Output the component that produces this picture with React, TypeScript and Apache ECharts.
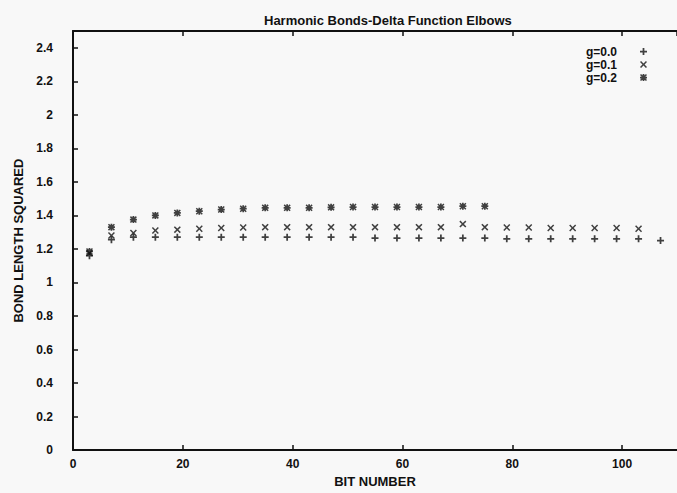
import React, { useEffect, useRef } from "react";
import * as echarts from "echarts";

const titleText = "Harmonic Bonds-Delta Function Elbows";
const xName = "BIT NUMBER";
const yName = "BOND LENGTH SQUARED";
const seriesNames = ["g=0.0", "g=0.1", "g=0.2"];

const bitNumbers = [3, 7, 11, 15, 19, 23, 27, 31, 35, 39, 43, 47, 51, 55, 59, 63, 67, 71, 75, 79, 83, 87, 91, 95, 99, 103, 107];
const g00 = [1.16, 1.255, 1.27, 1.27, 1.27, 1.27, 1.27, 1.27, 1.27, 1.27, 1.27, 1.27, 1.27, 1.265, 1.265, 1.265, 1.265, 1.265, 1.265, 1.26, 1.26, 1.26, 1.26, 1.26, 1.26, 1.26, 1.25];
const g01 = [1.175, 1.28, 1.295, 1.31, 1.315, 1.32, 1.325, 1.328, 1.33, 1.33, 1.33, 1.33, 1.33, 1.33, 1.33, 1.33, 1.33, 1.348, 1.33, 1.328, 1.328, 1.325, 1.325, 1.325, 1.325, 1.32];
const g02 = [1.185, 1.33, 1.375, 1.4, 1.415, 1.425, 1.435, 1.44, 1.445, 1.445, 1.445, 1.448, 1.45, 1.45, 1.45, 1.45, 1.45, 1.455, 1.455];

const PLUS = "path://M3,0H5V3H8V5H5V8H3V5H0V3H3Z";
const CROSS = "path://M0,1.2L1.2,0L4,2.8L6.8,0L8,1.2L5.2,4L8,6.8L6.8,8L4,5.2L1.2,8L0,6.8L2.8,4Z";
const STAR = "path://M0,1.2L1.2,0L4,2.8L6.8,0L8,1.2L5.2,4L8,6.8L6.8,8L4,5.2L1.2,8L0,6.8L2.8,4Z M3,0H5V8H3Z M0,3H8V5H0Z";
const symbols = [PLUS, CROSS, STAR];

export default function App() {
  const ref = useRef<HTMLDivElement>(null);
  useEffect(() => {
    if (!ref.current) return;
    const chart = echarts.init(ref.current, null, { renderer: "svg" });
    const font = "'Liberation Sans', Arial, sans-serif";
    const valueSets = [g00, g01, g02];
    const series = valueSets.map((vals, i) => ({
      name: seriesNames[i],
      type: "scatter",
      symbol: symbols[i],
      symbolSize: 7,
      itemStyle: { color: "#111" },
      data: vals.map((v, j) => [bitNumbers[j], v]),
    }));
    const axisLine = { show: true, lineStyle: { color: "#111", width: 2 } };
    chart.setOption({
      animation: false,
      backgroundColor: "#f8f8f8",
      textStyle: { fontFamily: font },
      title: {
        text: titleText,
        left: 259,
        top: 9,
        textStyle: { fontSize: 13, fontWeight: "bold", color: "#111", fontFamily: font },
      },
      legend: {
        orient: "vertical",
        right: 25,
        top: 40,
        align: "right",
        itemWidth: 7,
        itemHeight: 7,
        itemGap: 0,
        textStyle: { fontSize: 12, fontWeight: "bold", color: "#111", fontFamily: font, lineHeight: 13, padding: [0, 18, 0, 0] },
        data: seriesNames.map((n, i) => ({ name: n, icon: symbols[i], itemStyle: { color: "#111" } })),
      },
      grid: { left: 73, right: -7, top: 31, bottom: 33, containLabel: false },
      xAxis: [
        {
          type: "value",
          min: 0,
          max: 110,
          interval: 20,
          name: xName,
          nameLocation: "middle",
          nameGap: 20,
          nameTextStyle: { fontSize: 13, fontWeight: "bold", color: "#111" },
          axisLine,
          axisTick: { inside: true, length: 5, lineStyle: { color: "#111", width: 1.5 } },
          axisLabel: { fontSize: 12, fontWeight: "bold", color: "#111", margin: 8, showMaxLabel: false },
          splitLine: { show: false },
        },
        {
          type: "value",
          position: "top",
          min: 0,
          max: 110,
          interval: 20,
          axisLine,
          axisTick: { inside: true, length: 5, lineStyle: { color: "#111", width: 1.5 } },
          axisLabel: { show: false },
          splitLine: { show: false },
        },
      ],
      yAxis: {
        type: "value",
        min: 0,
        max: 2.5,
        interval: 0.2,
        name: yName,
        nameLocation: "middle",
        nameGap: 48,
        nameTextStyle: { fontSize: 13, fontWeight: "bold", color: "#111" },
        axisLine,
        axisTick: { inside: true, length: 5, lineStyle: { color: "#111", width: 1.5 } },
        axisLabel: { fontSize: 12, fontWeight: "bold", color: "#111", margin: 20, showMaxLabel: false },
        splitLine: { show: false },
      },
      series,
    });
    return () => chart.dispose();
  }, []);
  return <div ref={ref} style={{ position: "absolute", left: 0, top: 0, width: 677, height: 493 }} />;
}
